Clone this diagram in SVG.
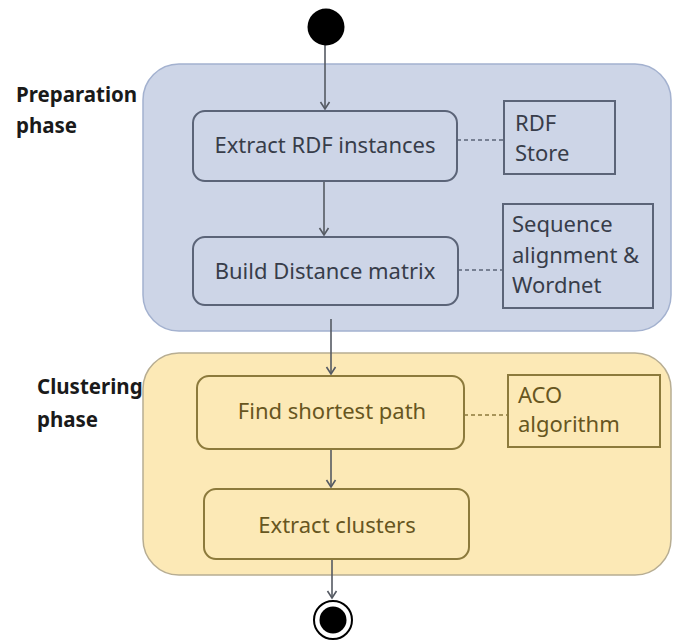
<svg xmlns="http://www.w3.org/2000/svg" width="678" height="644" viewBox="0 0 678 644">
  <style>
    .phase-label { font-family: "Noto Sans", "Open Sans", sans-serif; font-weight: bold; font-size: 20.5px; fill: #1a1a1a; }
    .container-prep { fill: #cdd5e7; stroke: #a3b1cf; stroke-width: 1.5; }
    .container-clus { fill: #fce9b6; stroke: #b7ad92; stroke-width: 1.5; }
    .act-prep { fill: #cdd5e7; stroke: #5b6478; stroke-width: 2; }
    .act-clus { fill: #fce9b6; stroke: #8c7a3c; stroke-width: 2; }
    .note-prep { fill: #cdd5e7; stroke: #5b6478; stroke-width: 2; }
    .note-clus { fill: #fce9b6; stroke: #8c7a3c; stroke-width: 2; }
    .txt { font-family: "Noto Sans", "Open Sans", sans-serif; font-size: 22px; }
    .txt-prep { fill: #383d4a; }
    .txt-clus { fill: #67561f; }
    .flow { stroke: #555a63; stroke-width: 1.6; fill: none; marker-end: url(#arrow); }
    .assoc-prep { stroke: #5b6478; stroke-width: 1.5; stroke-dasharray: 4 3; fill: none; }
    .assoc-clus { stroke: #8c7a3c; stroke-width: 1.5; stroke-dasharray: 4 3; fill: none; }
  </style>
  <defs>
    <marker id="arrow" viewBox="0 0 12 12" refX="10" refY="6" markerWidth="12" markerHeight="12" markerUnits="userSpaceOnUse" orient="auto">
      <path d="M3 1.5 L10 6 L3 10.5" fill="none" stroke="#555a63" stroke-width="1.6"/>
    </marker>
  </defs>

  <rect width="678" height="644" fill="#ffffff"/>

  <!-- phase containers -->
  <g id="preparation-phase">
    <rect class="container-prep" x="143" y="64" width="528" height="267" rx="36" ry="36"/>
    <text class="phase-label" x="16" y="102">Preparation</text>
    <text class="phase-label" x="16" y="133">phase</text>
  </g>
  <g id="clustering-phase">
    <rect class="container-clus" x="143" y="353" width="528" height="222" rx="36" ry="36"/>
    <text class="phase-label" x="37" y="394">Clustering</text>
    <text class="phase-label" x="37" y="427">phase</text>
  </g>

  <!-- connectors -->
  <g id="connectors">
    <line class="flow" x1="325" y1="44" x2="325" y2="109"/>
    <line class="flow" x1="324" y1="181" x2="324" y2="235"/>
    <line class="flow" x1="331" y1="319" x2="331" y2="374"/>
    <line class="flow" x1="331" y1="450" x2="331" y2="487"/>
    <line class="flow" x1="332" y1="559" x2="332" y2="598"/>
    <line class="assoc-prep" x1="457" y1="140" x2="504" y2="140"/>
    <line class="assoc-prep" x1="458" y1="270" x2="503" y2="270"/>
    <line class="assoc-clus" x1="464" y1="415" x2="508" y2="415"/>
  </g>

  <!-- start / end -->
  <g id="start">
    <circle cx="326" cy="27" r="18.5" fill="#000000"/>
  </g>
  <g id="end">
    <circle cx="333" cy="620" r="19" fill="#ffffff" stroke="#000000" stroke-width="2"/>
    <circle cx="333" cy="620" r="13.5" fill="#000000"/>
  </g>

  <!-- activities -->
  <g id="extract-rdf">
    <rect class="act-prep" x="193" y="111" width="264" height="70" rx="12" ry="12"/>
    <text class="txt txt-prep" x="325" y="153" text-anchor="middle">Extract RDF instances</text>
  </g>
  <g id="build-matrix">
    <rect class="act-prep" x="193" y="237" width="265" height="68" rx="12" ry="12"/>
    <text class="txt txt-prep" x="325" y="279" text-anchor="middle">Build Distance matrix</text>
  </g>
  <g id="find-path">
    <rect class="act-clus" x="197" y="376" width="267" height="73" rx="12" ry="12"/>
    <text class="txt txt-clus" x="332" y="419" text-anchor="middle">Find shortest path</text>
  </g>
  <g id="extract-clusters">
    <rect class="act-clus" x="204" y="489" width="265" height="70" rx="12" ry="12"/>
    <text class="txt txt-clus" x="337" y="533" text-anchor="middle">Extract clusters</text>
  </g>

  <!-- notes -->
  <g id="rdf-store">
    <rect class="note-prep" x="504" y="101" width="111" height="73"/>
    <text class="txt txt-prep" x="515" y="131">RDF</text>
    <text class="txt txt-prep" x="515" y="161">Store</text>
  </g>
  <g id="sequence-alignment">
    <rect class="note-prep" x="503" y="204" width="150" height="104"/>
    <text class="txt txt-prep" x="512" y="232">Sequence</text>
    <text class="txt txt-prep" x="512" y="263">alignment &amp;</text>
    <text class="txt txt-prep" x="512" y="293">Wordnet</text>
  </g>
  <g id="aco-algorithm">
    <rect class="note-clus" x="508" y="375" width="152" height="72"/>
    <text class="txt txt-clus" x="518" y="403">ACO</text>
    <text class="txt txt-clus" x="518" y="432">algorithm</text>
  </g>
</svg>
